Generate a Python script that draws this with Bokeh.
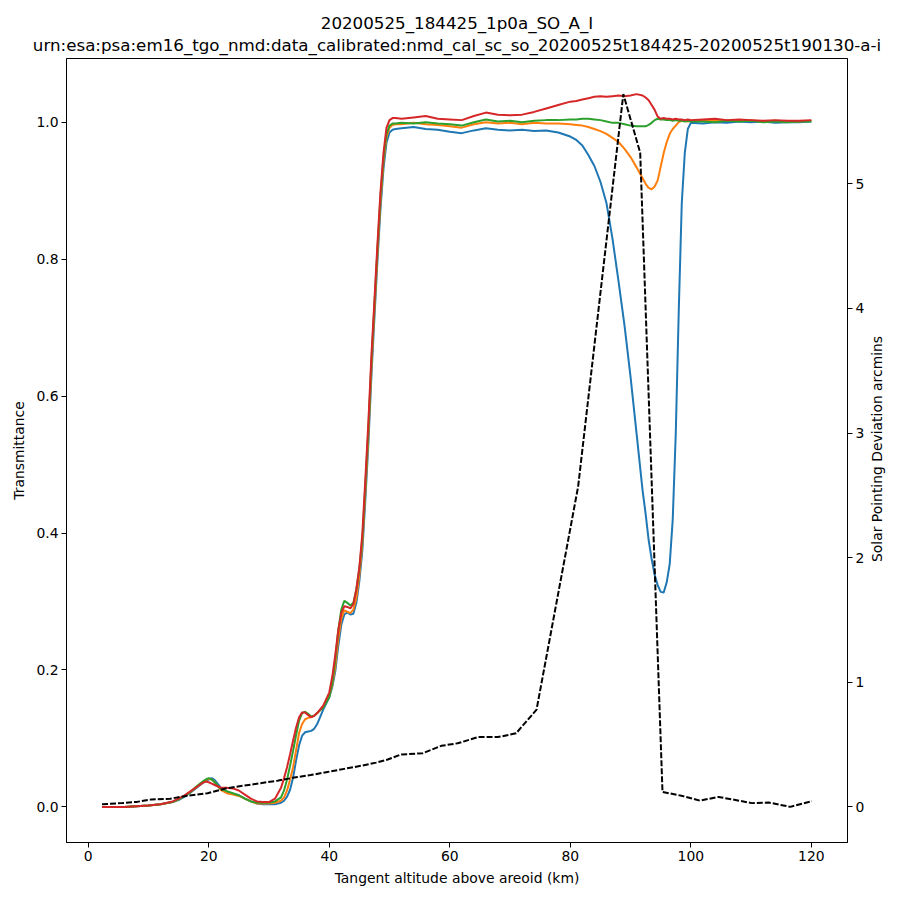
import math
from bokeh.plotting import figure
from bokeh.layouts import row, column
from bokeh.models import Range1d, LinearAxis, FixedTicker, PrintfTickFormatter
from bokeh.core.properties import value
from bokeh.embed import file_html
from bokeh.resources import INLINE

title_line1 = "20200525_184425_1p0a_SO_A_I"
title_line2 = "urn:esa:psa:em16_tgo_nmd:data_calibrated:nmd_cal_sc_so_20200525t184425-20200525t190130-a-i"
x_label = "Tangent altitude above areoid (km)"
y_label = "Transmittance"
y2_label = "Solar Pointing Deviation arcmins"
x_ticks = [0, 20, 40, 60, 80, 100, 120]
y_ticks = [0.0, 0.2, 0.4, 0.6, 0.8, 1.0]
y2_ticks = [0, 1, 2, 3, 4, 5]

altitude_km = [
    2.3, 4, 6, 8, 10, 12, 14,
    15, 16, 17, 18, 19,
    19.5, 20, 20.5, 21,
    22, 23, 24, 25, 26, 27, 28, 29, 30, 31,
    32, 32.5, 33, 33.5, 34, 34.5, 35, 35.5, 36, 36.5, 37, 37.5, 38,
    39, 40, 40.5, 41, 41.5, 42, 42.5, 43, 43.5, 44, 44.5, 45,
    45.5, 46, 46.5, 47, 47.5, 48, 48.5, 49, 49.5, 50, 50.5, 51,
    52, 54, 56, 58, 60, 62, 64, 66, 68, 70, 72, 74, 76, 78, 80,
    81, 82, 83, 84, 85, 86, 87, 88, 89, 90, 91, 92,
    92.5, 93, 93.5, 94, 94.5, 95, 95.5, 96, 96.5, 97, 97.5, 98, 98.5, 99, 99.5, 100,
    102, 104, 106, 108, 110, 112, 114, 116, 118, 120,
]

trans_blue = [
    0.000, 0.000, 0.000, 0.001, 0.002, 0.004, 0.007,
    0.010, 0.015, 0.021, 0.028, 0.035,
    0.038, 0.040, 0.042, 0.039,
    0.028, 0.021, 0.019, 0.017, 0.012, 0.008, 0.005, 0.004, 0.004, 0.004,
    0.006, 0.009, 0.015, 0.025, 0.043, 0.068, 0.090, 0.104, 0.109, 0.110, 0.111, 0.114, 0.121,
    0.142, 0.160, 0.175, 0.198, 0.235, 0.266, 0.281, 0.284, 0.281, 0.282, 0.298, 0.330,
    0.375, 0.450, 0.532, 0.630, 0.715, 0.798, 0.873, 0.932, 0.970, 0.985, 0.989, 0.990,
    0.991, 0.993, 0.990, 0.989, 0.986, 0.984, 0.988, 0.991, 0.989, 0.988, 0.989, 0.987, 0.988, 0.985, 0.979,
    0.974, 0.966, 0.952, 0.936, 0.913, 0.882, 0.830, 0.768, 0.703, 0.628, 0.545, 0.462,
    0.428, 0.390, 0.362, 0.339, 0.324, 0.314, 0.313, 0.328, 0.355, 0.420, 0.545, 0.725, 0.882, 0.955, 0.990, 0.999,
    0.998, 1.000, 0.999, 1.001, 1.000, 1.001, 0.999, 1.000, 1.000, 1.001,
]

trans_orange = [
    0.000, 0.000, 0.000, 0.001, 0.002, 0.004, 0.007,
    0.011, 0.016, 0.022, 0.029, 0.036,
    0.039, 0.041, 0.040, 0.036,
    0.025, 0.020, 0.018, 0.016, 0.012, 0.008, 0.005, 0.005, 0.005, 0.006,
    0.009, 0.014, 0.024, 0.040, 0.058, 0.083, 0.108, 0.121, 0.128, 0.130, 0.131, 0.133, 0.137,
    0.146, 0.162, 0.178, 0.205, 0.245, 0.275, 0.287, 0.285, 0.283, 0.288, 0.305, 0.338,
    0.385, 0.462, 0.545, 0.642, 0.726, 0.808, 0.884, 0.942, 0.978, 0.992, 0.996, 0.997,
    0.997, 0.999, 0.997, 0.996, 0.994, 0.992, 0.997, 1.000, 0.998, 0.999, 0.997, 0.999, 0.998, 0.998, 0.997,
    0.996, 0.995, 0.993, 0.990, 0.987, 0.983, 0.977, 0.971, 0.961, 0.949, 0.934, 0.918,
    0.910, 0.904, 0.902, 0.906, 0.915, 0.935, 0.955, 0.971, 0.983, 0.990, 0.995, 1.000, 1.002, 1.002, 1.001, 1.002,
    1.002, 1.003, 1.002, 1.002, 1.003, 1.001, 1.002, 1.001, 1.001, 1.002,
]

trans_green = [
    0.000, 0.000, 0.000, 0.001, 0.002, 0.004, 0.007,
    0.011, 0.016, 0.022, 0.030, 0.037,
    0.040, 0.042, 0.040, 0.036,
    0.026, 0.023, 0.020, 0.017, 0.012, 0.008, 0.006, 0.006, 0.006, 0.008,
    0.014, 0.024, 0.040, 0.060, 0.082, 0.105, 0.126, 0.137, 0.139, 0.136, 0.132, 0.133, 0.137,
    0.145, 0.160, 0.180, 0.215, 0.258, 0.288, 0.301, 0.298, 0.294, 0.298, 0.318, 0.348,
    0.392, 0.470, 0.553, 0.650, 0.733, 0.815, 0.890, 0.947, 0.983, 0.995, 0.998, 0.998,
    0.999, 0.998, 1.000, 0.998, 0.997, 0.995, 1.000, 1.004, 1.001, 1.002, 1.000, 1.002, 1.003, 1.003, 1.004,
    1.004, 1.005, 1.005, 1.004, 1.003, 1.001, 0.999, 0.999, 0.997, 0.995, 0.994, 0.994,
    0.994, 0.996, 0.999, 1.003, 1.005, 1.004, 1.004, 1.003, 1.003, 1.002, 1.003, 1.002, 1.002, 1.001, 1.002, 1.001,
    1.001, 1.000, 1.002, 1.001, 1.002, 1.000, 1.001, 1.000, 1.001, 1.001,
]

trans_red = [
    0.000, 0.000, 0.000, 0.001, 0.002, 0.004, 0.008,
    0.012, 0.017, 0.023, 0.029, 0.035,
    0.037, 0.036, 0.034, 0.032,
    0.028, 0.028, 0.027, 0.024, 0.018, 0.012, 0.008, 0.007, 0.007, 0.012,
    0.028, 0.042, 0.058, 0.077, 0.097, 0.116, 0.131, 0.138, 0.138, 0.134, 0.131, 0.133, 0.137,
    0.148, 0.167, 0.190, 0.222, 0.258, 0.283, 0.293, 0.292, 0.290, 0.296, 0.318, 0.350,
    0.400, 0.480, 0.563, 0.659, 0.740, 0.822, 0.898, 0.955, 0.992, 1.003, 1.006, 1.006,
    1.005, 1.007, 1.009, 1.005, 1.004, 1.003, 1.009, 1.014, 1.011, 1.010, 1.011, 1.015, 1.020, 1.025, 1.030,
    1.031, 1.033, 1.035, 1.037, 1.038, 1.037, 1.038, 1.039, 1.038, 1.039, 1.041, 1.039,
    1.036, 1.032, 1.025, 1.018, 1.008, 1.005, 1.006, 1.005, 1.005, 1.004, 1.005, 1.004, 1.004, 1.003, 1.004, 1.003,
    1.004, 1.005, 1.003, 1.004, 1.003, 1.002, 1.003, 1.002, 1.002, 1.003,
]

pointing_alt_km = [
    2.3, 5.5, 8.1, 10.5, 13.6, 16.5, 19.8, 23.1, 25.8, 28.6, 31.4, 34.2, 36.9,
    39.7, 42.5, 45.3, 47.8, 49.7, 51.9, 55.5, 58.6, 61.3, 64.7, 68.0, 71.0,
    74.4, 81.3, 88.8, 91.6, 95.3, 98.4, 101.5, 104.6, 107.4, 110.1, 112.9, 116.5, 120.1,
]
pointing_dev_arcmin = [
    0.02, 0.03, 0.04, 0.06, 0.065, 0.09, 0.11, 0.15, 0.17, 0.19, 0.21, 0.235, 0.255,
    0.28, 0.305, 0.33, 0.355, 0.38, 0.42, 0.43, 0.49, 0.51, 0.56, 0.56, 0.59,
    0.78, 2.57, 5.72, 5.25, 0.12, 0.09, 0.05, 0.08, 0.055, 0.03, 0.035, 0.0, 0.045,
]

series = [
    (trans_blue, "#1f77b4"),
    (trans_orange, "#ff7f0e"),
    (trans_green, "#2ca02c"),
    (trans_red, "#d62728"),
]

FONT = "DejaVu Sans"


def blank(fig):
    fig.axis.visible = False
    fig.xgrid.visible = False
    fig.ygrid.visible = False
    fig.outline_line_color = None
    fig.background_fill_color = "white"
    fig.border_fill_color = "white"


# ---- title band (full width, centred over the plot frame) ----
head = figure(
    width=900, height=58,
    x_range=Range1d(0, 900), y_range=Range1d(0, 58),
    output_backend="svg", toolbar_location=None, min_border=0,
)
blank(head)
head.text(x=[456.5, 456.5], y=[36, 14], text=[title_line1, title_line2],
          text_align="center", text_baseline="middle",
          text_font=value(FONT), text_font_size="16.7px", text_color="black")

# ---- main plot ----
p = figure(
    width=868, height=842,
    x_range=Range1d(-3.6, 126.0),
    y_range=Range1d(-0.052, 1.093),
    output_backend="svg", toolbar_location=None,
    min_border_left=66, min_border_right=21,
    min_border_top=0, min_border_bottom=58,
)
p.extra_y_ranges = {"dev": Range1d(-0.286, 6.006)}

p.xgrid.visible = False
p.ygrid.visible = False
p.outline_line_color = "black"
p.outline_line_width = 1
p.background_fill_color = "white"
p.border_fill_color = "white"

for alt_vals, col in series:
    p.line(altitude_km, alt_vals, line_color=col, line_width=2)

p.line(pointing_alt_km, pointing_dev_arcmin, y_range_name="dev",
       line_color="black", line_width=2, line_dash="6 2")

right_axis = LinearAxis(y_range_name="dev")
p.add_layout(right_axis, "right")

p.xaxis.ticker = FixedTicker(ticks=x_ticks)
p.yaxis[0].ticker = FixedTicker(ticks=y_ticks)
p.yaxis[0].formatter = PrintfTickFormatter(format="%.1f")
right_axis.ticker = FixedTicker(ticks=y2_ticks)

p.xaxis.axis_label = x_label
p.yaxis[0].axis_label = y_label

for ax in [p.xaxis[0], p.yaxis[0], right_axis]:
    ax.axis_line_color = "black"
    ax.axis_line_width = 1
    ax.major_tick_line_color = "black"
    ax.major_tick_out = 5
    ax.major_tick_in = 0
    ax.minor_tick_out = 0
    ax.minor_tick_in = 0
    ax.major_label_text_font = FONT
    ax.major_label_text_font_size = "13.9px"
    ax.major_label_text_color = "black"
    ax.major_label_standoff = 3
    ax.axis_label_text_font = FONT
    ax.axis_label_text_font_size = "13.9px"
    ax.axis_label_text_font_style = "normal"
    ax.axis_label_text_color = "black"
    ax.axis_label_standoff = 6

# ---- narrow strip carrying the right-hand axis title (bottom to top) ----
strip = figure(
    width=32, height=842,
    x_range=Range1d(0, 1), y_range=Range1d(0, 1),
    output_backend="svg", toolbar_location=None, min_border=0,
)
blank(strip)
strip.text(x=[0.28], y=[0.502], text=[y2_label], angle=math.pi / 2,
           text_align="center", text_baseline="middle",
           text_font=value(FONT), text_font_size="13.9px", text_color="black")

layout = column(head, row(p, strip, spacing=0), spacing=0)
open("out.html", "w").write(file_html(layout, INLINE))
